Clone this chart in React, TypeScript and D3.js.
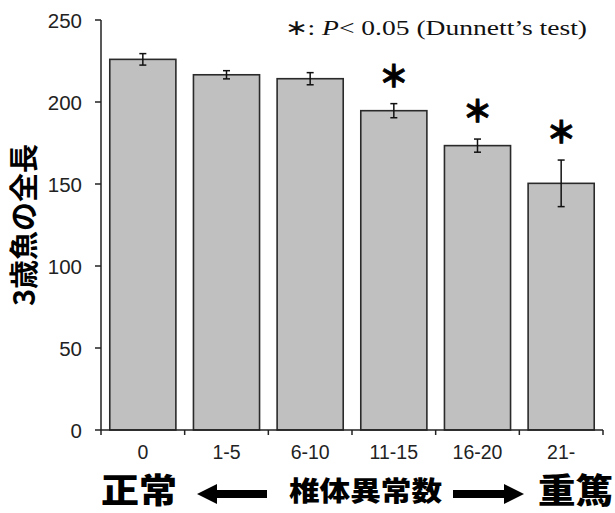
import React from "react";
import * as d3 from "d3";

const categories = ["0", "1-5", "6-10", "11-15", "16-20", "21-"];
const means = [226, 216.6, 214.2, 194.7, 173.4, 150.4];
const errors = [3.5, 2.5, 3.7, 4.3, 4.0, 14.2];
const significant = [false, false, false, true, true, true];
const yTicks = [0, 50, 100, 150, 200, 250];
const yTitle = "3歳魚の全長";
const xTitle = "椎体異常数";
const leftLabel = "正常";
const rightLabel = "重篤";

const W = 615;
const H = 513;
const x0 = 101, x1 = 603, yTop = 20, yBot = 430;

export default function App() {
  const x = d3.scaleBand<string>().domain(categories).range([x0, x1]).paddingInner(0.21).paddingOuter(0.105);
  const y = d3.scaleLinear().domain([0, 250]).range([yBot, yTop]);
  const step = x.step();
  const boundaries = d3.range(categories.length + 1).map((i) => x0 + i * step);
  const axisColor = "#222";
  const sans = "'Liberation Sans', Arial, sans-serif";
  const cjk = "'Noto Sans CJK JP', sans-serif";
  const arrowY = 494;

  return (
    <svg width={W} height={H} style={{ position: "absolute", left: 0, top: 0, background: "#fff" }}>
      {/* bars */}
      {categories.map((c, i) => (
        <rect key={c} x={x(c)} y={y(means[i])} width={x.bandwidth()} height={yBot - y(means[i])}
          fill="#c0c0c0" stroke="#2a2a2a" strokeWidth={1.6} />
      ))}
      {/* error bars */}
      {categories.map((c, i) => {
        const cx = (x(c) as number) + x.bandwidth() / 2;
        const t = y(means[i] + errors[i]);
        const b = y(means[i] - errors[i]);
        return (
          <g key={"e" + c} stroke="#111" strokeWidth={1.5}>
            <line x1={cx} x2={cx} y1={t} y2={b} />
            <line x1={cx - 3.5} x2={cx + 3.5} y1={t} y2={t} />
            <line x1={cx - 3.5} x2={cx + 3.5} y1={b} y2={b} />
          </g>
        );
      })}
      {/* significance */}
      {categories.map((c, i) =>
        significant[i] ? (
          <text key={"s" + c} x={(x(c) as number) + x.bandwidth() / 2} y={y(means[i] + errors[i]) - 30}
            textAnchor="middle" dominantBaseline="central" fontFamily={cjk} fontWeight={900} fontSize={30}
            fill="#000" stroke="#000" strokeWidth={0.8}>＊</text>
        ) : null
      )}
      {/* y axis */}
      <line x1={x0} x2={x0} y1={yTop} y2={yBot} stroke={axisColor} strokeWidth={1.5} />
      {yTicks.map((t) => (
        <g key={"yt" + t}>
          <line x1={x0 - 6} x2={x0} y1={y(t)} y2={y(t)} stroke={axisColor} strokeWidth={1.5} />
          <text x={82} y={y(t)} textAnchor="end" dominantBaseline="central" fontFamily={sans} fontSize={20.5} fill="#222">{t}</text>
        </g>
      ))}
      {/* x axis */}
      <line x1={x0} x2={x1} y1={yBot} y2={yBot} stroke={axisColor} strokeWidth={1.5} />
      {boundaries.map((bx, i) => (
        <line key={"xt" + i} x1={bx} x2={bx} y1={yBot} y2={yBot + 5} stroke={axisColor} strokeWidth={1.5} />
      ))}
      {categories.map((c) => (
        <text key={"xl" + c} x={(x(c) as number) + x.bandwidth() / 2} y={459} textAnchor="middle"
          fontFamily={sans} fontSize={19.5} fill="#222">{c}</text>
      ))}
      {/* y title */}
      <text transform={`translate(22,225) rotate(-90)`} textAnchor="middle" dominantBaseline="central"
        fontFamily={cjk} fontWeight={700} fontSize={29} fill="#000">{yTitle}</text>
      {/* annotation */}
      <text x={285} y={35} fontFamily="'Liberation Serif', 'Times New Roman', serif" fontSize={22} fill="#111"
        textLength={302} lengthAdjust="spacingAndGlyphs">
        ∗: <tspan fontStyle="italic">P</tspan>{"< 0.05 (Dunnett’s test)"}
      </text>
      {/* bottom labels */}
      <text x={101} y={503} fontFamily={cjk} fontWeight={900} fontSize={34} fill="#000"
        textLength={76} lengthAdjust="spacingAndGlyphs">{leftLabel}</text>
      <text x={289} y={501} fontFamily={cjk} fontWeight={900} fontSize={27} fill="#000"
        textLength={153} lengthAdjust="spacingAndGlyphs">{xTitle}</text>
      <text x={538} y={503} fontFamily={cjk} fontWeight={900} fontSize={34} fill="#000"
        textLength={75} lengthAdjust="spacingAndGlyphs">{rightLabel}</text>
      {/* arrows */}
      <path d={`M197,${arrowY} L217,${arrowY - 10} L217,${arrowY - 4} L267,${arrowY - 4} L267,${arrowY + 4} L217,${arrowY + 4} L217,${arrowY + 10} Z`} fill="#000" />
      <path d={`M524,${arrowY} L504,${arrowY - 10} L504,${arrowY - 4} L453,${arrowY - 4} L453,${arrowY + 4} L504,${arrowY + 4} L504,${arrowY + 10} Z`} fill="#000" />
    </svg>
  );
}
